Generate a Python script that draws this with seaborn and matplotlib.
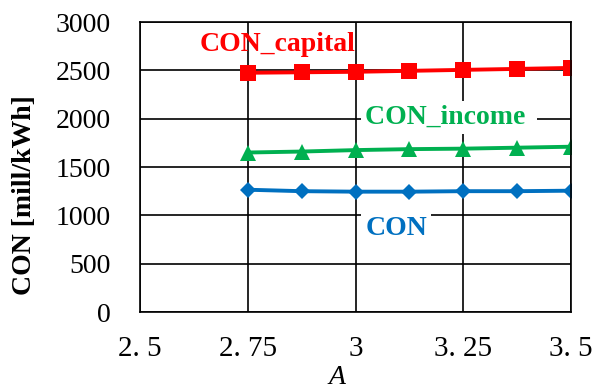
import matplotlib
matplotlib.use("Agg")
import matplotlib.pyplot as plt
import seaborn as sns
import pandas as pd

a_values = [2.75, 2.875, 3.0, 3.125, 3.25, 3.375, 3.5]
con_capital = [2475, 2480, 2485, 2495, 2505, 2515, 2525]
con_income = [1650, 1660, 1675, 1685, 1690, 1700, 1710]
con_total = [1265, 1250, 1245, 1245, 1250, 1250, 1255]

x_ticks = [2.5, 2.75, 3.0, 3.25, 3.5]
x_tick_labels = ["2. 5", "2. 75", "3", "3. 25", "3. 5"]
y_ticks = [0, 500, 1000, 1500, 2000, 2500, 3000]

sns.set_theme(style="white")
plt.rcParams["font.family"] = ["Liberation Serif", "DejaVu Serif"]
plt.rcParams["text.color"] = "black"

fig = plt.figure(figsize=(6.13, 3.89), dpi=100)
ax = fig.add_axes([0.2284, 0.1979, 0.7031, 0.7455])

df = pd.DataFrame({"A": a_values, "capital": con_capital,
                   "income": con_income, "total": con_total})

sns.lineplot(data=df, x="A", y="capital", ax=ax, color="#FF0000", lw=2.8,
             marker="s", markersize=11, markeredgewidth=0)
sns.lineplot(data=df, x="A", y="income", ax=ax, color="#00B050", lw=2.8,
             marker="^", markersize=11, markeredgewidth=0)
sns.lineplot(data=df, x="A", y="total", ax=ax, color="#0070C0", lw=2.8,
             marker="D", markersize=8.5, markeredgewidth=0)

ax.set_xlim(2.5, 3.5)
ax.set_ylim(0, 3000)
ax.set_xticks(x_ticks)
ax.set_xticklabels(x_tick_labels, fontsize=21)
ax.set_yticks(y_ticks)
ax.tick_params(axis="y", labelsize=20)
ax.tick_params(axis="both", length=0, colors="black")
ax.tick_params(axis="x", pad=17)
ax.tick_params(axis="y", pad=21)

ax.grid(True, color="black", lw=1.2)
ax.set_axisbelow(True)
for s in ax.spines.values():
    s.set_color("black")
    s.set_linewidth(1.2)

ax.set_xlabel("")
ax.set_ylabel("")
fig.text(337 / 613, 1 - 378 / 389, "A", fontsize=20, style="italic",
         ha="center", va="center")
fig.text(25 / 613, 1 - 195 / 389, "CON [mill/kWh]", fontsize=20,
         fontweight="bold", rotation=90, ha="center", va="center")

label_box = dict(facecolor="white", edgecolor="none", pad=3)
ax.text(2.639, 2772, "CON_capital", color="#FF0000", fontsize=20,
        fontweight="bold", va="center", ha="left")
ax.text(3.022, 2012, "CON_income ", color="#00B050", fontsize=20,
        fontweight="bold", va="center", ha="left", bbox=label_box)
ax.text(3.095, 859, "CON", color="#0070C0", fontsize=20,
        fontweight="bold", va="center", ha="center", bbox=label_box)

fig.savefig("out.png", dpi=100)
